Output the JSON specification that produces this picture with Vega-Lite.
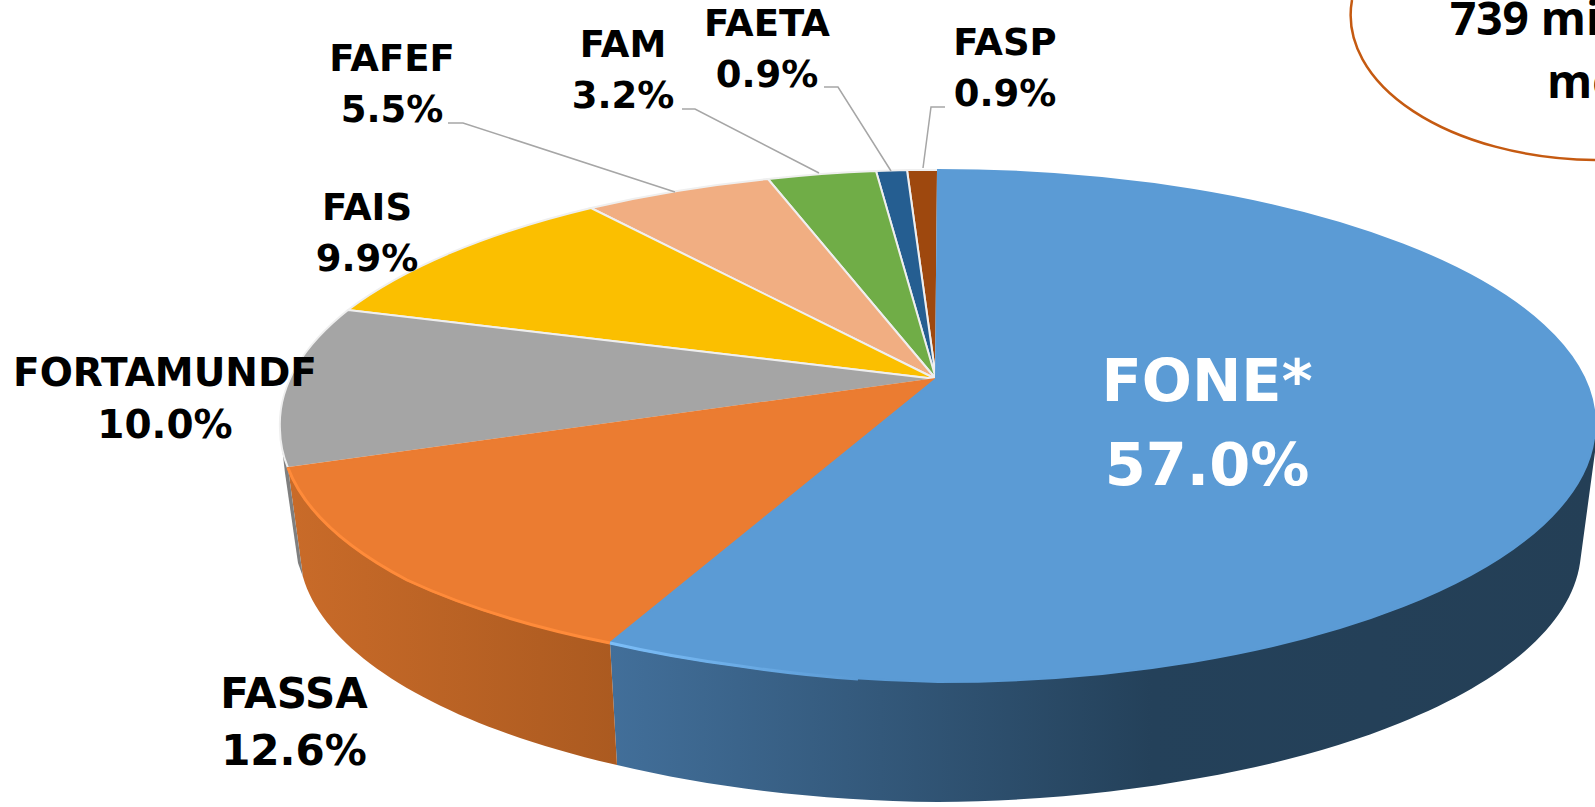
{
"$schema":"https://vega.github.io/schema/vega-lite/v6.json",
"width":1596,"height":806,"padding":0,"autosize":{"type":"none"},
"background":"white",
"view":{"stroke":null},
"datasets":{
"shares":[
{"name":"FASP","share":0.9,"order":8},
{"name":"FAETA","share":0.9,"order":7},
{"name":"FAM","share":3.2,"order":6},
{"name":"FAFEF","share":5.5,"order":5},
{"name":"FAIS","share":9.9,"order":4},
{"name":"FORTAMUNDF","share":10.0,"order":3},
{"name":"FASSA","share":12.6,"order":2},
{"name":"FONE*","share":57.0,"order":1}
],
"callout":[{"note":"739 mi","order":9},{"note":"me","order":10}]
},
"data":{"name":"shares"},
"transform":[{"calculate":"datum.name + '\\n' + format(datum.share, '.1f') + '%'","as":"label"}],
"layer":[
{"transform":[{"filter":"datum.name === 'FONE*'"}],
"mark":{"type":"point","size":4,"filled":true,"opacity":1,"strokeWidth":0,
"shape":"M-188 240L-181 362A642 250 0 0 0 140 399A642 250 0 0 0 402 375A642 250 0 0 0 602 320A642 250 0 0 0 782 160L797 49L797 21A657 258 0 0 1 140 279A658 252 0 0 1 -58 263A658 252 0 0 1 -188 240Z",
"fill":{"gradient":"linear","x1":0,"y1":0,"x2":1,"y2":0,"stops":[{"offset":0,"color":"#426F9A"},{"offset":0.55,"color":"#24415A"},{"offset":1,"color":"#243F56"}]}}},
{"transform":[{"filter":"datum.name === 'FASSA'"}],
"mark":{"type":"point","size":4,"filled":true,"opacity":1,"strokeWidth":0,
"shape":"M-188 240L-181 362A642 250 0 0 1 -495 174L-510 65A658 252 0 0 0 -391 177A658 252 0 0 0 -188 240Z",
"fill":{"gradient":"linear","x1":0,"y1":0,"x2":1,"y2":0,"stops":[{"offset":0,"color":"#C96B29"},{"offset":1,"color":"#AB5A20"}]}}},
{"transform":[{"filter":"datum.name === 'FORTAMUNDF'"}],
"mark":{"type":"point","size":4,"filled":true,"opacity":1,"strokeWidth":0,"fill":"#7F7F7F",
"shape":"M-518 27L-510 65L-495 174L-500 160L-513 70Z"}},
{"mark":{"type":"point","size":4,"filled":true,"opacity":1,"strokeWidth":2},
"encoding":{
"shape":{"field":"name","type":"nominal","legend":null,"scale":{
"domain":["FONE*","FASSA","FORTAMUNDF","FAIS","FAFEF","FAM","FAETA","FASP"],
"range":[
"M138 -24L140 -233A657 254 0 0 1 797 21A657 258 0 0 1 140 279A658 252 0 0 1 -58 263A658 252 0 0 1 -188 240Z",
"M138 -24L-188 240A658 252 0 0 1 -391 177A658 252 0 0 1 -510 65Z",
"M138 -24L-510 65A658 252 0 0 1 -518 27A658 258 0 0 1 -450 -93Z",
"M138 -24L-450 -93A658 258 0 0 1 -207 -195Z",
"M138 -24L-207 -195A658 258 0 0 1 -30 -224Z",
"M138 -24L-30 -224A658 258 0 0 1 78 -232Z",
"M138 -24L78 -232A658 258 0 0 1 109 -233Z",
"M138 -24L109 -233L140 -233Z"]}},
"fill":{"field":"name","type":"nominal","legend":null,"scale":{
"domain":["FONE*","FASSA","FORTAMUNDF","FAIS","FAFEF","FAM","FAETA","FASP"],
"range":["#5B9BD5","#EB7C31","#A5A5A5","#FBBF00","#F1AE82","#70AD47","#255E91","#9E480E"]}},
"stroke":{"field":"name","type":"nominal","legend":null,"scale":{
"domain":["FONE*","FASSA","FORTAMUNDF","FAIS","FAFEF","FAM","FAETA","FASP"],
"range":["#5B9BD5","#EB7C31","#EFEFEF","#EFEFEF","#EFEFEF","#EFEFEF","#EFEFEF","#EFEFEF"]}}
}},
{"transform":[{"filter":"datum.name === 'FASSA'"}],
"mark":{"type":"point","size":4,"filled":false,"opacity":1,"strokeWidth":3,"stroke":"#FF8B3A",
"shape":"M-188 240A658 252 0 0 1 -391 177A658 252 0 0 1 -510 65"}},
{"transform":[{"filter":"datum.name === 'FONE*'"}],
"mark":{"type":"point","size":4,"filled":false,"opacity":1,"strokeWidth":3,
"stroke":{"gradient":"linear","x1":0,"y1":0,"x2":1,"y2":0,"stops":[{"offset":0,"color":"#7CBEF8"},{"offset":1,"color":"#5B9BD5"}]},
"shape":"M-188 240A658 252 0 0 0 -58 263A658 252 0 0 0 60 276"}},
{"transform":[{"filter":"datum.order >= 5"}],
"mark":{"type":"point","size":4,"filled":false,"opacity":1,"strokeWidth":1.5,"stroke":"#A6A6A6"},
"encoding":{"shape":{"field":"name","type":"nominal","legend":null,"scale":{
"domain":["FAFEF","FAM","FAETA","FASP"],
"range":["M-350 -280L-335 -280L-123 -211","M-116 -294L-103 -294L21 -230","M26 -316L40 -316L93 -232","M147 -296L133 -296L125 -235"]}}}},
{"transform":[{"filter":"datum.order === 1"}],
"mark":{"type":"text","font":"DejaVu Sans","fontWeight":"bold","fontSize":59,"lineHeight":84,"lineBreak":"\n","color":"white","baseline":"middle","align":"center"},
"encoding":{
"x":{"field":"order","type":"quantitative","axis":null,"scale":{"domain":[1,2,3,4,5,6,7,8,9,10],"range":[1207,294,165,367,392,623,767,1005,1450,1547],"zero":false,"nice":false}},
"y":{"field":"order","type":"quantitative","axis":null,"scale":{"domain":[1,2,3,4,5,6,7,8,9,10],"range":[383,695,374,209,60,46,25,44,35,98],"zero":false,"nice":false}},
"text":{"field":"label"}}},
{"transform":[{"filter":"datum.order === 2"}],
"mark":{"type":"text","font":"DejaVu Sans","fontWeight":"bold","fontSize":42,"lineHeight":57,"lineBreak":"\n","color":"black","baseline":"middle","align":"center"},
"encoding":{"x":{"field":"order","type":"quantitative"},"y":{"field":"order","type":"quantitative"},"text":{"field":"label"}}},
{"transform":[{"filter":"datum.order === 3"}],
"mark":{"type":"text","font":"DejaVu Sans","fontWeight":"bold","fontSize":39,"lineHeight":52,"lineBreak":"\n","color":"black","baseline":"middle","align":"center"},
"encoding":{"x":{"field":"order","type":"quantitative"},"y":{"field":"order","type":"quantitative"},"text":{"field":"label"}}},
{"transform":[{"filter":"datum.order >= 4"}],
"mark":{"type":"text","font":"DejaVu Sans","fontWeight":"bold","fontSize":37,"lineHeight":51,"lineBreak":"\n","color":"black","baseline":"middle","align":"center"},
"encoding":{"x":{"field":"order","type":"quantitative"},"y":{"field":"order","type":"quantitative"},"text":{"field":"label"}}},
{"data":{"name":"callout"},"transform":[{"filter":"datum.order === 9"}],
"mark":{"type":"point","size":4,"filled":false,"opacity":1,"strokeWidth":2.5,"stroke":"#C55A11",
"shape":"M554 -403A249 145 0 0 0 797 -243"}},
{"data":{"name":"callout"},
"mark":{"type":"text","font":"Open Sans","fontWeight":"bold","fontSize":46,"color":"black","baseline":"alphabetic","align":"left"},
"encoding":{"x":{"field":"order","type":"quantitative"},"y":{"field":"order","type":"quantitative"},"text":{"field":"note"}}}
],
"resolve":{"scale":{"shape":"independent"}}
}
